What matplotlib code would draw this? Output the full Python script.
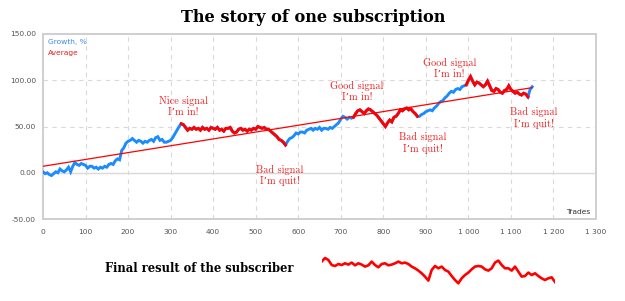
import matplotlib
matplotlib.use("Agg")
import matplotlib.pyplot as plt
import numpy as np

# ---------------- data ----------------
trades = list(range(0, 1155, 5))
growth = [
    1, -1, 0, -2, -3, -1, 1, 0, 4, 2, 1, 3, 6, 1, 7, 11, 9, 8, 10, 9,
    8, 5, 7, 7, 5, 6, 4, 6, 5, 7, 6, 9, 10, 9, 13, 15, 14, 24, 27, 32,
    34, 35, 37, 35, 33, 35, 34, 32, 34, 33, 35, 36, 34, 38, 39, 35, 36, 33, 33, 34,
    35, 38, 42, 46, 50, 53, 52, 49, 46, 48, 47, 49, 47, 48, 46, 49, 47, 48, 46, 49,
    48, 47, 49, 46, 47, 45, 48, 48, 49, 45, 43, 44, 47, 48, 46, 47, 45, 47, 46, 48,
    47, 50, 49, 48, 49, 47, 47, 45, 43, 41, 39, 36, 35, 33, 30, 34, 37, 38, 40, 43,
    42, 44, 44, 43, 46, 47, 48, 46, 48, 47, 49, 46, 48, 48, 47, 49, 48, 50, 52, 54,
    58, 61, 60, 58, 60, 59, 60, 64, 67, 68, 66, 64, 67, 69, 68, 66, 64, 62, 59, 56,
    53, 50, 54, 57, 55, 60, 61, 64, 68, 67, 69, 70, 68, 69, 66, 64, 61, 61, 63, 64,
    66, 67, 68, 67, 70, 72, 75, 77, 78, 81, 83, 86, 88, 87, 90, 91, 90, 93, 94, 95,
    100, 104, 99, 95, 98, 97, 95, 93, 95, 99, 94, 89, 88, 91, 90, 87, 86, 89, 90, 94,
    90, 88, 86, 87, 85, 84, 86, 85, 82, 90, 93,
]
subscribed_periods = [(325, 570), (730, 880), (995, 1140)]
average_start = (0, 7)
average_end = (1150, 92)

final_result = [
    49.7, 53.3, 51.3, 46.3, 45.3, 47.3, 46.3, 48.0, 46.7, 48.7,
    46.0, 48.0, 46.7, 44.7, 46.0, 49.7, 46.3, 44.0, 47.3, 48.0,
    46.0, 46.7, 48.0, 49.7, 48.0, 48.7, 47.3, 44.7, 43.0, 40.7,
    38.0, 34.7, 30.7, 41.3, 45.3, 43.0, 44.7, 41.3, 39.7, 35.3,
    31.3, 28.0, 33.0, 36.3, 38.7, 42.0, 44.7, 45.3, 44.7, 42.0,
    40.7, 43.0, 48.7, 50.7, 46.3, 43.0, 43.0, 40.7, 44.7, 39.7,
    34.7, 35.3, 38.7, 36.3, 38.0, 35.3, 33.0, 31.3, 33.0, 34.0, 29.3,
]

x_ticks = [0, 100, 200, 300, 400, 500, 600, 700, 800, 900, 1000, 1100, 1200, 1300]
x_tick_labels = ['0', '100', '200', '300', '400', '500', '600', '700', '800', '900',
                 '1 000', '1 100', '1 200', '1 300']
y_ticks = [-50, 0, 50, 100, 150]
y_tick_labels = ['-50.00', '0.00', '50.00', '100.00', '150.00']

annotations = [
    ("Nice signal\nI\u2019m in!", 330, 72),
    ("Bad signal\nI\u2019m quit!", 557, -3),
    ("Good signal\nI\u2019m in!", 738, 88),
    ("Bad signal\nI\u2019m quit!", 892, 32),
    ("Good signal\nI\u2019m in!", 956, 113),
    ("Bad signal\nI\u2019m quit!", 1153, 59),
]

BLUE = '#1a8cff'
RED = '#ff0000'
GRID = '#d9d9d9'
FRAME = '#cfcfcf'
TICKC = '#555555'

fig = plt.figure(figsize=(6.25, 3.01), dpi=100)
ax = fig.add_axes([43 / 625, 1 - 219 / 301, 553 / 625, 185 / 301])

t = np.array(trades)
g = np.array(growth, dtype=float)

ax.plot(t, g, color=BLUE, lw=2.1, solid_joinstyle='miter', zorder=3)
for a, b in subscribed_periods:
    m = (t >= a) & (t <= b)
    ax.plot(t[m], g[m], color=RED, lw=2.1, solid_joinstyle='miter', zorder=4)

ax.plot([average_start[0], average_end[0]], [average_start[1], average_end[1]],
        color=RED, lw=0.9, zorder=5)

ax.set_xlim(0, 1300)
ax.set_ylim(-50, 150)
ax.set_xticks(x_ticks)
ax.set_xticklabels(x_tick_labels)
ax.set_yticks(y_ticks)
ax.set_yticklabels(y_tick_labels)
ax.tick_params(length=0, labelsize=5.4, colors=TICKC, pad=5)
ax.tick_params(axis='x', pad=7)
for lab in ax.get_xticklabels() + ax.get_yticklabels():
    lab.set_family('DejaVu Sans')

for x in x_ticks[1:-1]:
    ax.axvline(x, color=GRID, lw=0.8, ls=(0, (4, 4)), zorder=1)
for y in [50, 100]:
    ax.axhline(y, color=GRID, lw=0.8, ls=(0, (4, 4)), zorder=1)
ax.axhline(0, color=GRID, lw=1.0, zorder=1)

for s in ax.spines.values():
    s.set_color(FRAME)
    s.set_linewidth(1.4)

ax.text(0.009, 0.958, 'Growth, %', transform=ax.transAxes, color='#3a8ee6',
        fontsize=5.4, va='center', ha='left')
ax.text(0.009, 0.897, 'Average', transform=ax.transAxes, color='#e52020',
        fontsize=5.4, va='center', ha='left')
ax.text(0.989, 0.04, 'Trades', transform=ax.transAxes, color='#333333',
        fontsize=5.4, va='center', ha='right')

for txt, x, y in annotations:
    ax.text(x, y, txt, color='#f02020', fontsize=7.4, ha='center', va='center',
            family=['cmr10', 'DejaVu Serif'], linespacing=1.2, zorder=6)

fig.text(313 / 625, 1 - 18 / 301, 'The story of one subscription',
         family='DejaVu Serif', weight='bold', fontsize=11.6, ha='center', va='center')
fig.text(105 / 625, 1 - 268 / 301, 'Final result of the subscriber',
         family='DejaVu Serif', weight='bold', fontsize=8.3, ha='left', va='center')

iax = fig.add_axes([321.7 / 625, 1 - 290 / 301, 233.3 / 625, 40 / 301])
iax.plot(np.arange(len(final_result)), final_result, color=RED, lw=1.9)
iax.set_xlim(0, len(final_result) - 1)
iax.set_ylim(21.3, 61.3)
iax.axis('off')

fig.savefig('out.png', dpi=100)
